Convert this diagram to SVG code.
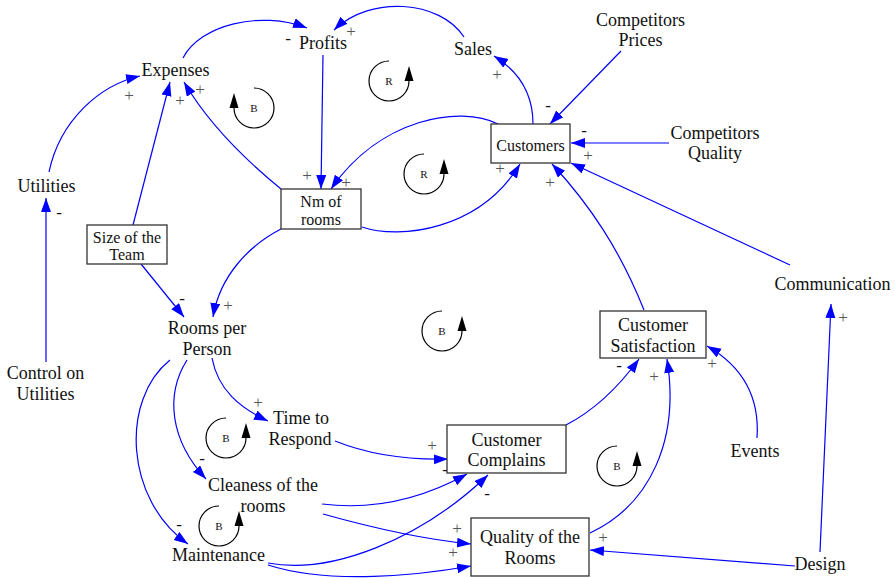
<svg xmlns="http://www.w3.org/2000/svg" width="895" height="578" viewBox="0 0 895 578">
<defs>
<marker id="ah" markerUnits="userSpaceOnUse" markerWidth="16" markerHeight="12" refX="14" refY="5" orient="auto"><path d="M0,0 L14,5 L0,10 Z" fill="#0000FF"/></marker>
</defs>
<style>
text{opacity:0.995}
.t{font-family:"Liberation Serif","Times New Roman",serif;font-size:18px;fill:#111;text-anchor:middle}
.s{font-size:16px}
.box{fill:#fff;stroke:#333;stroke-width:1.3}
.c{fill:none;stroke:#0000FF;stroke-width:1.2;marker-end:url(#ah)}
.p{font-family:"Liberation Serif","Times New Roman",serif;font-size:17px;fill:#555;text-anchor:middle}
.m{fill:#111;font-size:17px}
.loop{fill:none;stroke:#000;stroke-width:1.2}
.lh{fill:#000}
.ll{font-family:"Liberation Serif","Times New Roman",serif;font-size:11px;fill:#111;text-anchor:middle}
</style>
<rect width="895" height="578" fill="#fff"/>

<g id="connectors">
<path class="c" d="M183,58 C200,25 260,10 307,28"/>
<path class="c" d="M464,37 C440,0 370,-5 334,30"/>
<path class="c" d="M323,55 L321,189"/>
<path class="c" d="M498,124 C460,105 380,118 331,189"/>
<path class="c" d="M362,227 C400,240 480,230 520,164"/>
<path class="c" d="M281,189 Q215,135 184,82"/>
<path class="c" d="M133,225 L170,82"/>
<path class="c" d="M49,172 C60,120 100,85 140,76"/>
<path class="c" d="M46,362 L46,198"/>
<path class="c" d="M141,264 L184,317"/>
<path class="c" d="M281,229 C250,245 220,275 213,317"/>
<path class="c" d="M212,358 C218,390 240,408 268,421"/>
<path class="c" d="M187,360 C165,395 170,440 206,479"/>
<path class="c" d="M170,360 C120,400 125,500 188,544"/>
<path class="c" d="M335,441 C370,455 410,460 448,459"/>
<path class="c" d="M322,504 C370,510 420,500 467,474"/>
<path class="c" d="M323,514 C380,530 430,540 471,544"/>
<path class="c" d="M268,563 C330,575 420,540 488,475"/>
<path class="c" d="M268,565 C330,585 420,575 471,566"/>
<path class="c" d="M566,425 C595,410 620,385 639,359"/>
<path class="c" d="M590,533 C650,505 680,440 667,359"/>
<path class="c" d="M757,438 C760,395 740,365 707,346"/>
<path class="c" d="M795,566 L590,550"/>
<path class="c" d="M820,552 L831,304"/>
<path class="c" d="M790,265 L571,163"/>
<path class="c" d="M669,143 L571,143"/>
<path class="c" d="M621,51 L550,124"/>
<path class="c" d="M533,124 C533,95 520,72 494,56"/>
<path class="c" d="M644,310 C620,250 590,205 552,164"/>

<text class="p m" x="288" y="44">-</text>
<text class="p" x="351" y="37">+</text>
<text class="p" x="307" y="181">+</text>
<text class="p" x="346" y="188">+</text>
<text class="p" x="500" y="174">+</text>
<text class="p" x="200" y="95">+</text>
<text class="p" x="180" y="106">+</text>
<text class="p" x="129" y="101">+</text>
<text class="p m" x="59" y="218">-</text>
<text class="p m" x="182" y="304">-</text>
<text class="p" x="228" y="311">+</text>
<text class="p" x="258" y="408">+</text>
<text class="p m" x="202" y="464">-</text>
<text class="p m" x="179" y="530">-</text>
<text class="p" x="432" y="451">+</text>
<text class="p m" x="445" y="475">-</text>
<text class="p" x="457" y="534">+</text>
<text class="p m" x="487" y="499">-</text>
<text class="p" x="453" y="558">+</text>
<text class="p m" x="619" y="371">-</text>
<text class="p" x="654" y="382">+</text>
<text class="p" x="712" y="369">+</text>
<text class="p" x="603" y="543">+</text>
<text class="p" x="843" y="323">+</text>
<text class="p" x="588" y="161">+</text>
<text class="p m" x="584" y="136">-</text>
<text class="p m" x="548" y="111">-</text>
<text class="p" x="497" y="80">+</text>
<text class="p" x="550" y="188">+</text>
</g>

<g id="loops">
<path class="loop" d="M254,88 A20,20 0 1 1 234,108"/>
<polygon class="lh" points="229.5,108 238.5,108 234,93"/>
<text class="ll" x="254" y="112">B</text>
<path class="loop" d="M389,61 A20,20 0 1 0 409,81"/>
<polygon class="lh" points="404.5,81 413.5,81 409,66"/>
<text class="ll" x="389" y="85">R</text>
<path class="loop" d="M424,154 A20,20 0 1 0 444,174"/>
<polygon class="lh" points="439.5,174 448.5,174 444,159"/>
<text class="ll" x="424" y="178">R</text>
<path class="loop" d="M442,311 A20,20 0 1 0 462,331"/>
<polygon class="lh" points="457.5,331 466.5,331 462,316"/>
<text class="ll" x="442" y="335">B</text>
<path class="loop" d="M226,418 A20,20 0 1 0 246,438"/>
<polygon class="lh" points="241.5,438 250.5,438 246,423"/>
<text class="ll" x="226" y="442">B</text>
<path class="loop" d="M219,506 A20,20 0 1 0 239,526"/>
<polygon class="lh" points="234.5,526 243.5,526 239,511"/>
<text class="ll" x="219" y="530">B</text>
<path class="loop" d="M617,446 A20,20 0 1 0 637,466"/>
<polygon class="lh" points="632.5,466 641.5,466 637,451"/>
<text class="ll" x="617" y="470">B</text>
</g>

<g id="profits"><text class="t" x="323" y="49">Profits</text></g>
<g id="expenses"><text class="t" x="175.5" y="76">Expenses</text></g>
<g id="sales"><text class="t" x="473" y="55">Sales</text></g>
<g id="competitors-prices"><text class="t" x="640.5" y="25.5">Competitors</text><text class="t" x="640.5" y="45.5">Prices</text></g>
<g id="competitors-quality"><text class="t" x="715" y="139">Competitors</text><text class="t" x="715" y="159">Quality</text></g>
<g id="customers"><rect class="box" x="491" y="124" width="79" height="39"/><text class="t s" x="530.5" y="150.5">Customers</text></g>
<g id="nm-rooms"><rect class="box" x="281" y="189" width="80" height="40"/><text class="t s" x="321" y="206.5">Nm of</text><text class="t s" x="321" y="225">rooms</text></g>
<g id="utilities"><text class="t" x="46.5" y="192">Utilities</text></g>
<g id="control-utilities"><text class="t" x="45.5" y="379">Control on</text><text class="t" x="45.5" y="399.5">Utilities</text></g>
<g id="size-team"><rect class="box" x="87" y="225" width="80" height="39"/><text class="t s" x="127" y="242.5">Size of the</text><text class="t s" x="127" y="260">Team</text></g>
<g id="rooms-per-person"><text class="t" x="207" y="334">Rooms per</text><text class="t" x="207" y="355">Person</text></g>
<g id="time-respond"><text class="t" x="301" y="424">Time to</text><text class="t" x="300" y="445">Respond</text></g>
<g id="cleaness"><text class="t" x="263" y="491">Cleaness of the</text><text class="t" x="263" y="511.5">rooms</text></g>
<g id="maintenance"><text class="t" x="218.5" y="561">Maintenance</text></g>
<g id="customer-satisfaction"><rect class="box" x="600" y="311" width="106" height="47"/><text class="t" x="653" y="330.5">Customer</text><text class="t" x="653" y="352">Satisfaction</text></g>
<g id="customer-complains"><rect class="box" x="447" y="425" width="119" height="48"/><text class="t" x="506.5" y="445.5">Customer</text><text class="t" x="506.5" y="465.5">Complains</text></g>
<g id="quality-rooms"><rect class="box" x="471" y="518" width="118" height="58"/><text class="t" x="530" y="543">Quality of the</text><text class="t" x="530" y="564">Rooms</text></g>
<g id="events"><text class="t" x="755" y="456.5">Events</text></g>
<g id="design"><text class="t" x="820" y="570">Design</text></g>
<g id="communication"><text class="t" x="832.5" y="290">Communication</text></g>
</svg>
